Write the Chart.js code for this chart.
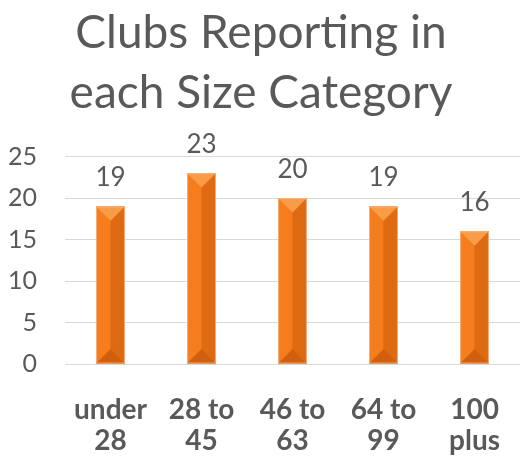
<!DOCTYPE html>
<html>
<head>
<meta charset="utf-8">
<script src="https://cdn.jsdelivr.net/npm/chart.js@4"></script>
<style>
    html, body { margin: 0; padding: 0; background: #fff; }
    #wrap { width: 522px; height: 456px; position: relative; }
</style>
</head>
<body>
<div id="wrap"><canvas id="sizeChart"></canvas></div>
<script>
// Chart data
const categories = [['under', '28'], ['28 to', '45'], ['46 to', '63'], ['64 to', '99'], ['100', 'plus']];
const clubCounts = [19, 23, 20, 19, 16];
const yTicks = [0, 5, 10, 15, 20, 25];

const textGrey = '#595959';
const fontFamily = "Lato, 'Open Sans', sans-serif";

// Value labels above bars
const valueLabels = {
    id: 'valueLabels',
    afterDatasetsDraw(chart) {
        const ctx = chart.ctx;
        const meta = chart.getDatasetMeta(0);
        ctx.save();
        ctx.fillStyle = textGrey;
        ctx.font = '26px ' + fontFamily;
        ctx.textAlign = 'center';
        ctx.textBaseline = 'alphabetic';
        meta.data.forEach((bar, i) => {
            ctx.fillText(clubCounts[i], bar.x, bar.y - 20);
        });
        ctx.restore();
    }
};

// Bevel shading on each bar (uses element geometry from the scales)
const bevelBars = {
    id: 'bevelBars',
    afterDatasetsDraw(chart) {
        const ctx = chart.ctx;
        const meta = chart.getDatasetMeta(0);
        ctx.save();
        meta.data.forEach(bar => {
            const w = bar.width, l = bar.x - w / 2, r = bar.x + w / 2;
            const t = bar.y, b = bar.base;
            const bv = w / 2;
            // left and right faces
            ctx.fillStyle = '#f57d1d';
            ctx.fillRect(l, t, w / 2, b - t);
            ctx.fillStyle = '#de6b12';
            ctx.fillRect(bar.x, t, w / 2, b - t);
            // top bevel
            ctx.fillStyle = '#f99c48';
            ctx.beginPath();
            ctx.moveTo(l, t); ctx.lineTo(r, t); ctx.lineTo(bar.x, t + bv); ctx.closePath();
            ctx.fill();
            // bottom bevel
            ctx.fillStyle = '#d1600e';
            ctx.beginPath();
            ctx.moveTo(l, b); ctx.lineTo(r, b); ctx.lineTo(bar.x, b - bv); ctx.closePath();
            ctx.fill();
            // light outline
            ctx.strokeStyle = 'rgba(245,190,150,0.8)';
            ctx.lineWidth = 1;
            ctx.strokeRect(l + 0.5, t + 0.5, w - 1, b - t - 1);
        });
        ctx.restore();
    }
};

new Chart(document.getElementById('sizeChart'), {
    type: 'bar',
    data: {
        labels: categories,
        datasets: [{
            data: clubCounts,
            backgroundColor: '#ee7518',
            categoryPercentage: 1,
            barPercentage: 0.317
        }]
    },
    options: {
        responsive: true,
        maintainAspectRatio: false,
        animation: false,
        layout: { padding: 0 },
        plugins: {
            legend: { display: false },
            tooltip: { enabled: false },
            title: {
                display: true,
                text: ['Clubs Reporting in', 'each Size Category'],
                color: textGrey,
                font: { family: fontFamily, size: 46, weight: 'normal', lineHeight: 1.3 },
                padding: { top: 3, bottom: 34 }
            }
        },
        scales: {
            x: {
                grid: { display: false },
                border: { display: false },
                afterFit: axis => { axis.height = 92; },
                ticks: {
                    color: textGrey,
                    font: { family: fontFamily, size: 28, weight: 'bold', lineHeight: 1.12 },
                    maxRotation: 0,
                    padding: 22
                }
            },
            y: {
                min: 0,
                max: 25,
                afterBuildTicks: axis => { axis.ticks = yTicks.map(v => ({ value: v })); },
                afterFit: axis => { axis.width = 65; },
                grid: { color: '#d9d9d9', drawTicks: false },
                border: { display: false },
                ticks: {
                    color: textGrey,
                    font: { family: fontFamily, size: 25 },
                    padding: 28
                }
            }
        }
    },
    plugins: [bevelBars, valueLabels]
});
</script>
</body>
</html>
